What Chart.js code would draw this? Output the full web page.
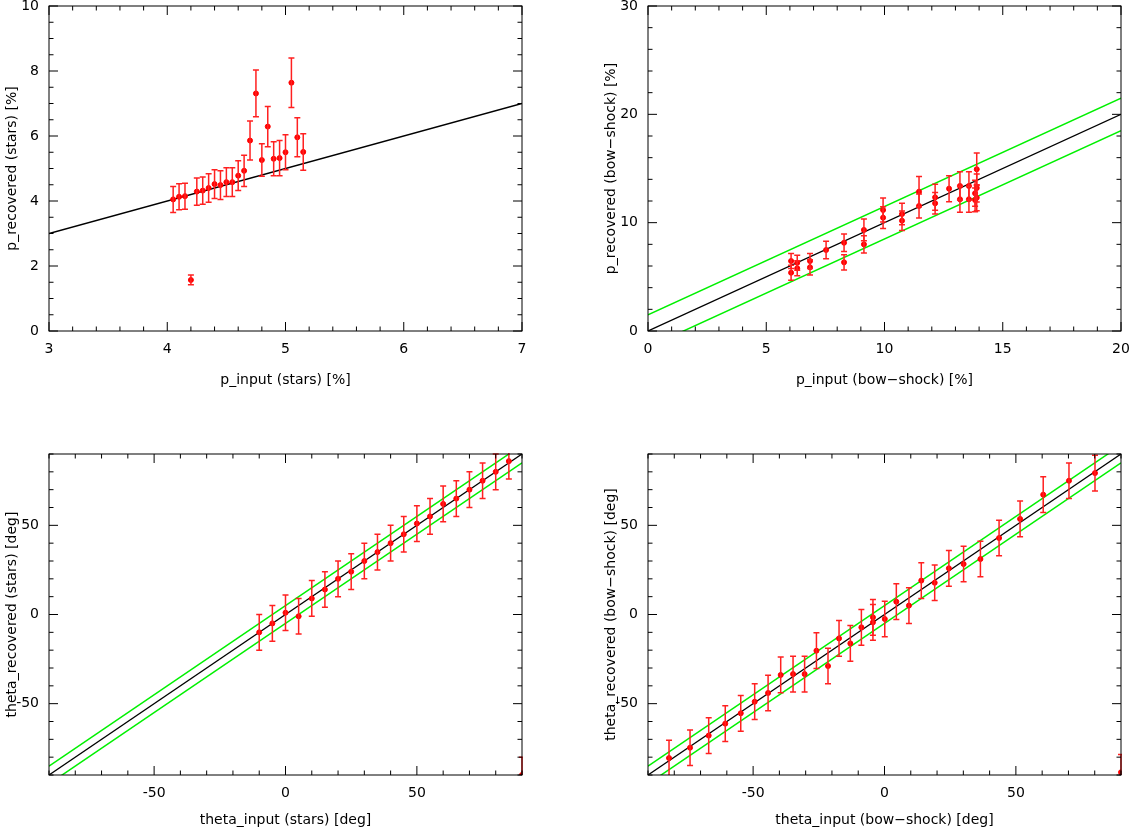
<!DOCTYPE html>
<html lang="en">
<head>
<meta charset="UTF-8">
<title>Recovered vs input</title>
<script src="https://cdn.jsdelivr.net/npm/chart.js"></script>
<style>
    body { margin: 0; background: #fff; }
    .panel { position: absolute; width: 566px; }
    .top { top: 0; height: 415px; }
    .bottom { top: 448px; height: 382px; }
</style>
</head>
<body>
<div class="panel top" style="left:0"><canvas id="c1"></canvas></div>
<div class="panel top" style="left:599px"><canvas id="c2"></canvas></div>
<div class="panel bottom" style="left:0"><canvas id="c3"></canvas></div>
<div class="panel bottom" style="left:599px"><canvas id="c4"></canvas></div>
<script>
// panel 1: stars, polarisation
const p1X = [4.05, 4.10, 4.15, 4.20, 4.25, 4.30, 4.35, 4.40, 4.45, 4.50, 4.55, 4.60, 4.65, 4.70, 4.75, 4.80, 4.85, 4.90, 4.95, 5.00, 5.05, 5.10, 5.15];
const p1Y = [4.05, 4.13, 4.15, 1.57, 4.29, 4.32, 4.40, 4.52, 4.49, 4.58, 4.58, 4.78, 4.93, 5.86, 7.31, 5.26, 6.29, 5.30, 5.32, 5.50, 7.64, 5.96, 5.51];
const p1Err = [0.4, 0.4, 0.4, 0.15, 0.42, 0.42, 0.44, 0.44, 0.44, 0.44, 0.44, 0.46, 0.48, 0.6, 0.72, 0.5, 0.62, 0.52, 0.54, 0.54, 0.76, 0.6, 0.56];

// panel 2: bow-shock, polarisation
const p2X = [6.05, 6.05, 6.31, 6.31, 6.85, 6.85, 7.53, 8.29, 8.29, 9.13, 9.13, 9.94, 9.94, 10.74, 10.74, 11.46, 11.46, 12.14, 12.14, 12.73, 13.19, 13.19, 13.57, 13.57, 13.83, 13.83, 13.9, 13.9, 13.9];
const p2Y = [6.46, 5.38, 6.30, 5.79, 6.46, 5.88, 7.48, 8.15, 6.34, 9.33, 8.00, 11.17, 10.46, 10.80, 10.18, 12.86, 11.54, 12.34, 11.79, 13.14, 13.39, 12.16, 13.39, 12.16, 12.71, 12.10, 14.93, 13.20, 12.30];
const p2Err = [0.7, 0.7, 0.7, 0.7, 0.7, 0.7, 0.8, 0.8, 0.7, 1.0, 0.8, 1.1, 1.0, 1.0, 0.9, 1.4, 1.1, 1.2, 1.0, 1.2, 1.3, 1.2, 1.3, 1.2, 1.2, 1.1, 1.5, 1.3, 1.2];

// panel 3: stars, angle
const p3X = [-10, -5, 0, 5, 10, 15, 20, 25, 30, 35, 40, 45, 50, 55, 60, 65, 70, 75, 80, 85, 90];
const p3Y = [-10, -5, 1, -1, 9, 14, 20, 24, 30, 35, 40, 45, 51, 55, 62, 65, 70, 75, 80, 86, -90];
const p3Err = [10, 10, 10, 10, 10, 10, 10, 10, 10, 10, 10, 10, 10, 10, 10, 10, 10, 10, 10, 10, 10];

// panel 4: bow-shock, angle
const p4X = [-82.0, -74.0, -66.9, -60.6, -54.7, -49.4, -44.3, -39.5, -34.8, -30.4, -25.9, -21.5, -17.3, -13.0, -8.8, -4.4, -4.4, 0.1, 4.5, 9.3, 14.0, 19.1, 24.5, 30.1, 36.5, 43.6, 51.6, 60.4, 70.2, 80.1, 90];
const p4Y = [-80.5, -74.7, -67.9, -61.2, -55.4, -48.9, -44.0, -33.9, -33.4, -33.4, -20.3, -28.9, -13.4, -16.2, -7.2, -1.6, -4.4, -2.5, 7.2, 5.0, 19.0, 17.8, 25.9, 28.3, 31.1, 42.9, 53.6, 67.2, 75.0, 79.3, -88.5];
const p4Err = [10, 10, 10, 10, 10, 10, 10, 10, 10, 10, 10, 10, 10, 10, 10, 10, 10, 10, 10, 10, 10, 10, 10, 10, 10, 10, 10, 10, 10, 10, 10];

const FONT = { family: 'DejaVu Sans', size: 14 };

const errorBars = {
    id: 'errorBars',
    afterDatasetsDraw(chart) {
        const ctx = chart.ctx, xs = chart.scales.x, ys = chart.scales.y;
        const errs = chart.options.plugins.errorBars.errs;
        const pts = chart.data.datasets[0].data;
        ctx.save();
        ctx.beginPath();
        ctx.rect(chart.chartArea.left, chart.chartArea.top - 1, chart.chartArea.width + 1, chart.chartArea.height + 1);
        ctx.clip();
        ctx.strokeStyle = '#ff2020';
        ctx.lineWidth = 1.5;
        pts.forEach((p, i) => {
            const px = xs.getPixelForValue(p.x);
            const y1 = ys.getPixelForValue(p.y - errs[i]);
            const y2 = ys.getPixelForValue(p.y + errs[i]);
            ctx.beginPath();
            ctx.moveTo(px, y1); ctx.lineTo(px, y2);
            ctx.moveTo(px - 3, y1); ctx.lineTo(px + 3, y1);
            ctx.moveTo(px - 3, y2); ctx.lineTo(px + 3, y2);
            ctx.stroke();
        });
        ctx.restore();
    }
};

const frameTicks = {
    id: 'frameTicks',
    afterDraw(chart) {
        const ctx = chart.ctx, a = chart.chartArea;
        const t = chart.options.plugins.frameTicks;
        ctx.save();
        ctx.strokeStyle = '#000';
        ctx.lineWidth = 1;
        ctx.strokeRect(a.left, a.top, a.width, a.height);
        ctx.beginPath();
        const xs = chart.scales.x, ys = chart.scales.y;
        for (let v = xs.min; v <= xs.max + 1e-9; v += t.xMinor) {
            const major = Math.abs(v / t.xMajor - Math.round(v / t.xMajor)) < 1e-6;
            const len = major ? 9 : 4.5, px = xs.getPixelForValue(v);
            ctx.moveTo(px, a.bottom); ctx.lineTo(px, a.bottom - len);
            ctx.moveTo(px, a.top); ctx.lineTo(px, a.top + len);
        }
        for (let v = ys.min; v <= ys.max + 1e-9; v += t.yMinor) {
            const major = Math.abs(v / t.yMajor - Math.round(v / t.yMajor)) < 1e-6;
            const len = major ? 9 : 4.5, py = ys.getPixelForValue(v);
            ctx.moveTo(a.left, py); ctx.lineTo(a.left + len, py);
            ctx.moveTo(a.right, py); ctx.lineTo(a.right - len, py);
        }
        ctx.stroke();
        ctx.restore();
    }
};

function makeChart(id, cfg) {
    const pts = cfg.xs.map((x, i) => ({ x: x, y: cfg.ys[i] }));
    const [lo, hi] = [cfg.xr[0], cfg.xr[1]];
    const datasets = [
        { type: 'scatter', data: pts, backgroundColor: '#ff0000', borderColor: '#ff0000', pointRadius: 2.5, order: 0 },
        { type: 'line', data: [{ x: lo, y: lo }, { x: hi, y: hi }], borderColor: '#000', borderWidth: 1.3, pointRadius: 0, order: 2 }
    ];
    if (cfg.band) {
        datasets.push({ type: 'line', data: [{ x: lo, y: lo + cfg.band }, { x: hi, y: hi + cfg.band }], borderColor: '#00f000', borderWidth: 1.5, pointRadius: 0, order: 3 });
        datasets.push({ type: 'line', data: [{ x: lo, y: lo - cfg.band }, { x: hi, y: hi - cfg.band }], borderColor: '#00f000', borderWidth: 1.5, pointRadius: 0, order: 3 });
    }
    const hideEdge = cfg.hideEdge;
    const label = v => (hideEdge && Math.abs(v) >= 90) ? '' : v;
    new Chart(document.getElementById(id), {
        type: 'scatter',
        data: { datasets: datasets },
        plugins: [errorBars, frameTicks],
        options: {
            responsive: true,
            maintainAspectRatio: false,
            animation: false,
            layout: { padding: { top: 6, right: 44 } },
            plugins: {
                legend: { display: false },
                tooltip: { enabled: false },
                errorBars: { errs: cfg.errs },
                frameTicks: cfg.ticks
            },
            scales: {
                x: {
                    type: 'linear', min: cfg.xr[0], max: cfg.xr[1],
                    grid: { display: false, drawTicks: false }, border: { display: false },
                    ticks: { stepSize: cfg.ticks.xMajor, color: '#000', font: FONT, padding: 10, maxRotation: 0, callback: label },
                    title: { display: true, text: cfg.xTitle, color: '#000', font: FONT, padding: { top: 0, bottom: cfg.xTitlePad } },
                    afterFit: s => { s.height = cfg.xHeight; s.paddingLeft = 0; s.paddingRight = 0; }
                },
                y: {
                    type: 'linear', min: cfg.yr[0], max: cfg.yr[1],
                    grid: { display: false, drawTicks: false }, border: { display: false },
                    ticks: { stepSize: cfg.ticks.yMajor, color: '#000', font: FONT, padding: 10, callback: label },
                    title: { display: true, text: cfg.yTitle, color: '#000', font: FONT, padding: { top: 4, bottom: 0 } },
                    afterFit: s => { s.width = 49; s.paddingTop = 0; s.paddingBottom = 0; }
                }
            }
        }
    });
}

makeChart('c1', {
    xs: p1X, ys: p1Y, errs: p1Err, xr: [3, 7], yr: [0, 10],
    xTitle: 'p_input (stars) [%]', yTitle: 'p_recovered (stars) [%]',
    ticks: { xMajor: 1, xMinor: 0.2, yMajor: 2, yMinor: 0.5 }, xHeight: 84, xTitlePad: 26
});
makeChart('c2', {
    xs: p2X, ys: p2Y, errs: p2Err, xr: [0, 20], yr: [0, 30], band: 1.5,
    xTitle: 'p_input (bow\u2212shock) [%]', yTitle: 'p_recovered (bow\u2212shock) [%]',
    ticks: { xMajor: 5, xMinor: 1, yMajor: 10, yMinor: 2 }, xHeight: 84, xTitlePad: 26
});
makeChart('c3', {
    xs: p3X, ys: p3Y, errs: p3Err, xr: [-90, 90], yr: [-90, 90], band: 5, hideEdge: true,
    xTitle: 'theta_input (stars) [deg]', yTitle: 'theta_recovered (stars) [deg]',
    ticks: { xMajor: 50, xMinor: 10, yMajor: 50, yMinor: 10 }, xHeight: 55, xTitlePad: 1
});
makeChart('c4', {
    xs: p4X, ys: p4Y, errs: p4Err, xr: [-90, 90], yr: [-90, 90], band: 5, hideEdge: true,
    xTitle: 'theta_input (bow\u2212shock) [deg]', yTitle: 'theta_recovered (bow\u2212shock) [deg]',
    ticks: { xMajor: 50, xMinor: 10, yMajor: 50, yMinor: 10 }, xHeight: 55, xTitlePad: 1
});
</script>
</body>
</html>
